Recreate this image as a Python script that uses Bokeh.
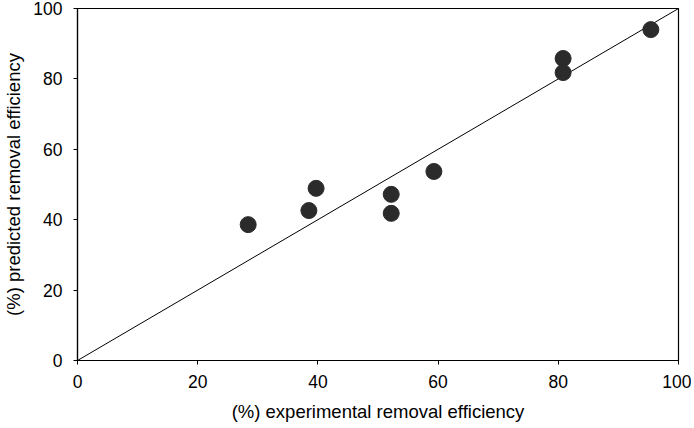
from bokeh.plotting import figure
from bokeh.embed import file_html
from bokeh.resources import INLINE
from bokeh.models import Range1d, FixedTicker

experimental = [28.4, 38.5, 39.7, 52.2, 52.2, 59.3, 80.8, 80.8, 95.4]
predicted = [38.6, 42.6, 48.9, 47.2, 41.8, 53.7, 85.8, 81.8, 94.0]
line_x = [0, 100]
line_y = [0, 100]
ticks = [0, 20, 40, 60, 80, 100]

p = figure(width=678, height=420, output_backend="svg", toolbar_location=None,
           x_range=Range1d(0, 100), y_range=Range1d(0, 100),
           min_border_left=64, min_border_right=13, min_border_top=8, min_border_bottom=60)
p.frame_width = 601
p.frame_height = 352

p.grid.visible = False
p.outline_line_color = "black"
p.outline_line_width = 1.2
p.background_fill_color = "white"
p.border_fill_color = "white"

p.line(line_x, line_y, line_color="black", line_width=1)
p.scatter(experimental, predicted, size=16, fill_color="#2b2b2b", line_color="#2b2b2b")

for ax in (p.xaxis[0], p.yaxis[0]):
    ax.ticker = FixedTicker(ticks=ticks)
    ax.minor_tick_line_color = None
    ax.major_tick_out = 4
    ax.major_tick_in = 0
    ax.axis_line_color = "black"
    ax.axis_line_width = 1.2
    ax.major_tick_line_color = "black"
    ax.major_label_text_font = "Liberation Sans"
    ax.major_label_text_font_size = "17.5px"
    ax.major_label_text_color = "black"
    ax.axis_label_text_font = "Liberation Sans"
    ax.axis_label_text_font_size = "18.5px"
    ax.axis_label_text_font_style = "normal"
    ax.axis_label_text_color = "black"

p.xaxis.axis_label = "(%) experimental removal efficiency"
p.yaxis.axis_label = "(%) predicted removal efficiency"
p.xaxis.major_label_standoff = 10
p.yaxis.major_label_standoff = 11
p.xaxis.axis_label_standoff = 10
p.yaxis.axis_label_standoff = 6

open("out.html", "w").write(file_html(p, INLINE))
